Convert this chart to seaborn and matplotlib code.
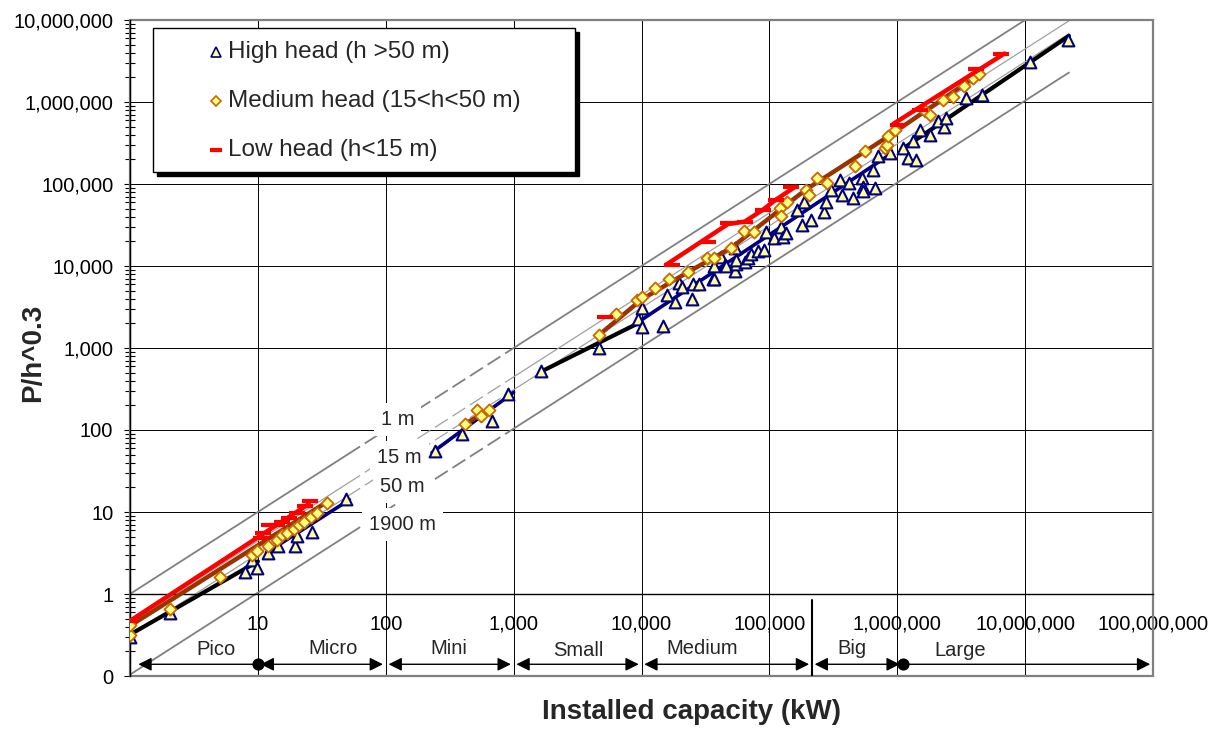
import matplotlib
matplotlib.use("Agg")
import matplotlib.pyplot as plt
import seaborn as sns
import pandas as pd
from matplotlib.ticker import FixedLocator, FuncFormatter, LogLocator, NullFormatter
from matplotlib.patches import Rectangle

# ---------------- data ----------------
# High head plants (h > 50 m): installed capacity (kW) and P/h^0.3
high_x = [1, 2.05, 8.0, 9.0, 9.9, 12, 14.3, 19.6, 20.2, 26.7, 49,
          244, 395, 675, 910,
          1650, 4670,
          9420, 10100, 10100, 14700, 15800, 18400, 19500, 20700, 24700, 25500,
          28200, 36300, 36800, 37000, 42200, 44800, 46200, 54200, 54200, 55200,
          55200, 64700, 67900, 72100, 81300, 91500, 94200, 109000, 124000,
          127000, 135000, 164000, 181000, 187000, 210000, 267000, 275000,
          304000, 359000, 370000, 417000, 451000, 529000, 538000, 544000,
          651000, 671000, 712000, 877000,
          1.11e6, 1.22e6, 1.41e6, 1.33e6, 1.5e6, 1.79e6, 2.08e6, 2.34e6,
          2.41e6, 3.44e6, 4.64e6, 1.1e7, 2.18e7]
high_y = [0.3, 0.58, 1.85, 2.6, 2.1, 3.2, 3.8, 3.9, 5.1, 5.7, 14.5,
          56, 89, 130, 275,
          530, 1000,
          2280, 1800, 3080, 1850, 4480, 3650, 6230, 5560, 3930, 6100,
          6100, 7030, 6920, 9980, 13000, 10300, 10000, 8660, 16400, 10700,
          11800, 11200, 12400, 14200, 15200, 15700, 26200, 21700, 30200,
          22800, 25000, 48300, 31700, 61000, 36500, 46100, 61000,
          84900, 112000, 73800, 102000, 67000, 118000, 93200, 82600,
          149000, 88900, 217000, 239000,
          274000, 207000, 198000, 338000, 460000, 400000, 582000, 492000,
          640000, 1.12e6, 1.21e6, 3.1e6, 5.66e6]

# Medium head plants (15 < h < 50 m)
med_x = [1, 1, 2.05, 5.1, 9.0, 9.9, 12, 14, 15.5, 17, 19, 21, 23, 26, 29, 34.5,
         420, 517, 560, 640,
         4670, 6290, 9250, 10100, 12800, 16500, 23300, 32300, 37000, 50400,
         63200, 76500, 122000, 124000, 137000, 192000, 204000, 237000, 283000,
         469000, 561000, 801000, 826000, 851000, 960000, 1.64e6, 1.79e6,
         2.27e6, 2.71e6, 3.35e6, 3.88e6, 4.32e6]
med_y = [0.32, 0.42, 0.65, 1.6, 3.0, 3.35, 3.9, 4.6, 5.2, 5.6, 6.2, 6.9, 7.6, 8.6, 9.8, 12.7,
         118, 177, 150, 175,
         1450, 2620, 3830, 4200, 5400, 6900, 8490, 12400, 12600, 16700,
         26700, 26200, 51500, 41100, 61000, 84900, 73800, 118000, 102000,
         164000, 250000, 274000, 302000, 381000, 460000, 787000, 690000,
         1.07e6, 1.16e6, 1.56e6, 1.97e6, 2.21e6]

# Low head plants (h < 15 m)
low_x = [1, 10.5, 11, 12.2, 14, 15.5, 17.4, 20.2, 23.3, 25.6,
         5160,
         17300, 33200, 47500, 64000, 88700, 112000, 147000,
         1.02e6, 1.5e6, 4.12e6, 6.44e6]
low_y = [0.47, 4.8, 5.6, 7.0, 6.9, 7.6, 8.5, 9.8, 11.8, 13.7,
         2390,
         10400, 19800, 33200, 34700, 48300, 64100, 93200,
         530000, 800000, 2.5e6, 3.81e6]

# Trend lines per head class and size range
low_fit = [
    ([1, 25], [0.47, 12.5]),
    ([15500, 47500, 64000, 88700, 112000, 160000], [10300, 32500, 34700, 48300, 64100, 93000]),
    ([930000, 6.9e6], [540000, 3.9e6]),
]
med_fit = [
    ([1, 34], [0.41, 13]),
    ([410, 650], [117, 178]),
    ([4650, 10000, 23300, 50400, 192000, 561000, 851000, 4.4e6],
     [1440, 3900, 8490, 16700, 84900, 250000, 381000, 2.2e6]),
]
high_fit = [
    ([11.7, 52], [3.2, 14.1]),
    ([230, 1000], [53, 288]),
    ([10000, 880000], [2200, 230000]),
]
all_fit = [
    ([1, 10], [0.32, 2.5]),
    ([1700, 10000], [530, 2100]),
    ([1.07e6, 2.2e7], [260000, 6.4e6]),
]

# Constant-head reference lines (m)
heads = [1, 15, 50, 1900]
head_labels = ["1 m", "15 m", "50 m", "1900 m"]
head_line_x = [1, 50, 1000, 2.2e7]

# Size classes (kW)
range_names = ["Pico", "Micro", "Mini", "Small", "Medium", "Big", "Large"]
range_bounds = [1, 10, 100, 1000, 10000, 215000, 1.1e6, 1e8]

x_ticks = [1, 10, 100, 1000, 10000, 100000, 1000000, 10000000, 100000000]
y_ticks = [0.1, 1, 10, 100, 1000, 10000, 100000, 1000000, 10000000]

# ---------------- style ----------------
sns.set_style("white")
plt.rcParams["font.family"] = ["Liberation Sans", "DejaVu Sans"]
plt.rcParams["lines.scale_dashes"] = False

W, H = 1221, 729
fig = plt.figure(figsize=(W / 100, H / 100), dpi=100)
ax = fig.add_axes([130 / W, 1 - 676 / H, 1023 / W, 656 / H])
ax.set_xscale("log")
ax.set_yscale("log")
ax.set_xlim(1, 1e8)
ax.set_ylim(0.1, 1e7)

# grid and frame
ax.xaxis.set_major_locator(FixedLocator(x_ticks))
ax.yaxis.set_major_locator(FixedLocator(y_ticks))
ax.xaxis.set_minor_locator(LogLocator(base=10, subs=range(2, 10), numticks=20))
ax.yaxis.set_minor_locator(LogLocator(base=10, subs=range(2, 10), numticks=20))
ax.xaxis.set_minor_formatter(NullFormatter())
ax.yaxis.set_minor_formatter(NullFormatter())
ax.xaxis.set_major_formatter(FuncFormatter(lambda v, p: "" if v < 5 else f"{v:,.0f}"))
ax.yaxis.set_major_formatter(FuncFormatter(lambda v, p: "0" if v < 0.5 else f"{v:,.0f}"))
ax.grid(True, which="major", color="black", lw=0.7, zorder=0)
ax.set_axisbelow(True)

for s in ["top", "right"]:
    ax.spines[s].set_visible(False)
ax.spines["bottom"].set_position(("data", 1))
ax.spines["bottom"].set_color("black")
ax.spines["left"].set_color("black")
ax.spines["bottom"].set_linewidth(1.0)
ax.spines["left"].set_linewidth(1.0)
ax.add_patch(Rectangle((0, 0), 1, 1, transform=ax.transAxes, fill=False,
                       edgecolor="#808080", lw=1.6, zorder=2.4, clip_on=False))

ax.tick_params(axis="x", which="major", length=0, pad=15, labelsize=14.5, colors="black")
ax.tick_params(axis="x", which="minor", direction="inout", length=7, width=0.8, color="black")
ax.tick_params(axis="y", which="major", direction="out", length=4, width=0.8, pad=8,
               labelsize=14.5, colors="black", left=True)
ax.tick_params(axis="y", which="minor", direction="inout", length=7, width=0.8, color="black", left=True)

# constant-head lines: solid, dashed through the label area, solid again
for h in heads:
    thin = h in (15, 50)
    col = "#a0a0a0" if thin else "#808080"
    lw = 0.9 if thin else 1.3
    for i in range(3):
        xs = [head_line_x[i], head_line_x[i + 1]]
        ys = [v / h ** 0.3 for v in xs]
        kw = dict(linestyle=(0, (11, 4))) if i == 1 else {}
        sns.lineplot(x=xs, y=ys, ax=ax, color=col, lw=lw, sort=False,
                     estimator=None, zorder=1, **kw)

lab_pos = [(124, 135), (128, 46.2), (135, 20.4), (135, 7.0)]
for lab, (lx, ly) in zip(head_labels, lab_pos):
    ax.text(lx, ly, lab, fontsize=14.5, ha="center", va="center", zorder=2,
            bbox=dict(facecolor="white", edgecolor="none", pad=5))

# trend lines
def draw_fits(segs, color, lw, z):
    for xs, ys in segs:
        sns.lineplot(x=xs, y=ys, ax=ax, color=color, lw=lw, sort=False,
                     estimator=None, zorder=z)

draw_fits(all_fit, "black", 3.0, 3)
draw_fits(high_fit, "#000080", 2.6, 3)

high_df = pd.DataFrame({"cap": high_x, "val": high_y})
med_df = pd.DataFrame({"cap": med_x, "val": med_y})
low_df = pd.DataFrame({"cap": low_x, "val": low_y})

sns.scatterplot(data=high_df, x="cap", y="val", ax=ax, marker="^", s=72,
                color="#FFFF99", edgecolor="#000080", linewidth=1.5, zorder=4)
draw_fits(med_fit, "#993300", 3.2, 5)
sns.scatterplot(data=med_df, x="cap", y="val", ax=ax, marker="D", s=38,
                color="#FFFF80", edgecolor="#CC6600", linewidth=1.3, zorder=6)
draw_fits(low_fit, "#FF0000", 3.2, 7)
sns.scatterplot(data=low_df, x="cap", y="val", ax=ax, marker="_", s=120,
                color="#FF0000", edgecolor="#FF0000", linewidth=3, zorder=7)

# size classes along the bottom
y_arrow = 0.139
heads_style = ["<|-", "<|-|>", "<|-|>", "<|-|>", "<|-|>", "<|-|>", "-|>"]
label_x = [4.7, 38.8, 313, 3190, 29700, 440000, 3.1e6]
label_y = [0.212, 0.218, 0.218, 0.205, 0.218, 0.218, 0.205]
for i, name in enumerate(range_names):
    ax.annotate("", xy=(range_bounds[i + 1], y_arrow), xytext=(range_bounds[i], y_arrow),
                arrowprops=dict(arrowstyle=heads_style[i], color="black", lw=1.0,
                                mutation_scale=20, shrinkA=6 if i == 0 else 2, shrinkB=2),
                zorder=5, annotation_clip=False)
    ax.text(label_x[i], label_y[i], name, fontsize=14.5, ha="center", va="center")

ax.scatter([10, 1.1e6], [y_arrow, y_arrow], s=60, color="black", zorder=6)
sns.lineplot(x=[215000, 215000], y=[0.1, 0.85], ax=ax, color="black", lw=1.5,
             sort=False, estimator=None, zorder=3)

ax.set_xlabel("")
ax.set_ylabel("")
fig.text(691 / W, 1 - 712 / H, "Installed capacity (kW)", fontsize=20, fontweight="bold",
         ha="center", va="center")
fig.text(33 / W, 1 - 353 / H, "P/h^0.3", fontsize=20, fontweight="bold",
         ha="center", va="center", rotation=90)

# legend box with drop shadow
def ax_xy(px, py):
    return (px - 130) / 1023, (676 - py) / 656

x0, y0 = ax_xy(153, 172)
x1, y1 = ax_xy(575, 28)
ax.add_patch(Rectangle((x0 + 4 / 1023, y0 - 4 / 656), x1 - x0, y1 - y0, transform=ax.transAxes,
                       facecolor="black", edgecolor="black", zorder=9))
ax.add_patch(Rectangle((x0, y0), x1 - x0, y1 - y0, transform=ax.transAxes,
                       facecolor="white", edgecolor="black", lw=1.0, zorder=10))

legend_items = [
    ("High head (h >50 m)", dict(marker="^", ms=7, mfc="#FFFF99", mec="#000080", mew=1.2), 52),
    ("Medium head (15<h<50 m)", dict(marker="D", ms=5.5, mfc="#FFFF80", mec="#CC6600", mew=1.2), 101),
    ("Low head (h<15 m)", dict(marker="_", ms=8, mec="#FF0000", mew=3), 150),
]
for text, mk, py in legend_items:
    mx, my = ax_xy(216, py)
    ax.plot([mx], [my], transform=ax.transAxes, linestyle="none", zorder=11, **mk)
    tx, ty = ax_xy(228, py)
    ax.text(tx, ty, text, transform=ax.transAxes, fontsize=17.5, va="center", ha="left", zorder=11)

fig.savefig("out.png", dpi=100)
